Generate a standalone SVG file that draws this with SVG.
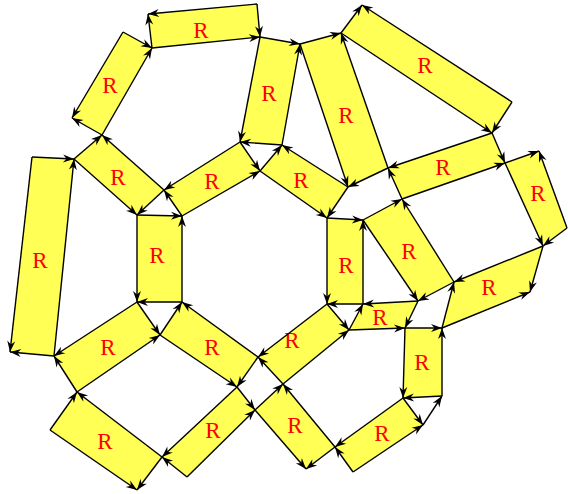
<svg xmlns="http://www.w3.org/2000/svg" width="568" height="494" viewBox="0 0 568 494">
<style>
.q{fill:#ffff55;stroke:none}
.t{font-family:"Liberation Serif",serif;font-size:23px;fill:#ff0000;text-anchor:middle}
.e{stroke:#000;stroke-width:1.4;fill:none;marker-end:url(#ah)}
</style>
<defs>
<marker id="ah" markerUnits="userSpaceOnUse" viewBox="-12 -5 13 10" refX="0" refY="0" markerWidth="13" markerHeight="10" orient="auto">
<path d="M0,0 L-11,-4 L-7.5,0 L-11,4 z" fill="#000"/>
</marker>
</defs>
<rect width="568" height="494" fill="#fff"/>
<g id="n1"><polygon class="q" points="148,14 257,4 260,37 152,48"/><text class="t" x="201" y="38">R</text></g>
<g id="n2"><polygon class="q" points="123,32 152,48 102,135 72,118"/><text class="t" x="110" y="93">R</text></g>
<g id="n3"><polygon class="q" points="102,135 164,190 137,215 74,159"/><text class="t" x="118" y="185">R</text></g>
<g id="n4"><polygon class="q" points="32,157 74,159 54,356 10,352"/><text class="t" x="40" y="268">R</text></g>
<g id="n5"><polygon class="q" points="137,302 160,335 77,392 54,356"/><text class="t" x="108" y="355">R</text></g>
<g id="n6"><polygon class="q" points="137,215 182,216 182,302 137,302"/><text class="t" x="157" y="263">R</text></g>
<g id="n7"><polygon class="q" points="164,190 240,142 260,171 182,216"/><text class="t" x="212" y="189">R</text></g>
<g id="n8"><polygon class="q" points="260,37 300,44 282,145 240,142"/><text class="t" x="269" y="101">R</text></g>
<g id="n9"><polygon class="q" points="282,145 348,187 327,218 260,171"/><text class="t" x="301" y="188">R</text></g>
<g id="n10"><polygon class="q" points="327,218 363,220 363,304 327,304"/><text class="t" x="346" y="273">R</text></g>
<g id="n11"><polygon class="q" points="363,220 402,199 454,282 418,301"/><text class="t" x="409" y="259">R</text></g>
<g id="n12"><polygon class="q" points="363,304 418,301 405,328 349,330"/><text class="t" x="380" y="325">R</text></g>
<g id="n13"><polygon class="q" points="327,304 349,330 283,384 258,357"/><text class="t" x="292" y="348">R</text></g>
<g id="n14"><polygon class="q" points="182,302 258,357 237,387 160,335"/><text class="t" x="212" y="355">R</text></g>
<g id="n15"><polygon class="q" points="77,392 162,457 137,490 50,430"/><text class="t" x="105" y="449">R</text></g>
<g id="n16"><polygon class="q" points="237,387 255,410 187,477 162,457"/><text class="t" x="213" y="438">R</text></g>
<g id="n17"><polygon class="q" points="283,384 335,447 306,469 255,410"/><text class="t" x="295" y="433">R</text></g>
<g id="n18"><polygon class="q" points="403,398 423,425 353,472 335,447"/><text class="t" x="382" y="441">R</text></g>
<g id="n19"><polygon class="q" points="405,328 442,328 442,396 403,398"/><text class="t" x="422" y="370">R</text></g>
<g id="n20"><polygon class="q" points="362,5 512,102 492,133 341,33"/><text class="t" x="425" y="73">R</text></g>
<g id="n21"><polygon class="q" points="300,44 341,33 388,168 348,187"/><text class="t" x="346" y="123">R</text></g>
<g id="n22"><polygon class="q" points="492,133 505,163 402,199 388,168"/><text class="t" x="443" y="175">R</text></g>
<g id="n23"><polygon class="q" points="505,163 539,151 567,228 543,246"/><text class="t" x="538" y="201">R</text></g>
<g id="n24"><polygon class="q" points="454,282 543,246 530,292 442,328"/><text class="t" x="489" y="295">R</text></g>
<g id="connectors">
<line class="e" x1="257" y1="4" x2="148" y2="14"/>
<line class="e" x1="257" y1="4" x2="260" y2="37"/>
<line class="e" x1="152" y1="48" x2="148" y2="14"/>
<line class="e" x1="152" y1="48" x2="260" y2="37"/>
<line class="e" x1="123" y1="32" x2="152" y2="48"/>
<line class="e" x1="102" y1="135" x2="152" y2="48"/>
<line class="e" x1="123" y1="32" x2="72" y2="118"/>
<line class="e" x1="102" y1="135" x2="72" y2="118"/>
<line class="e" x1="74" y1="159" x2="102" y2="135"/>
<line class="e" x1="164" y1="190" x2="102" y2="135"/>
<line class="e" x1="74" y1="159" x2="137" y2="215"/>
<line class="e" x1="164" y1="190" x2="137" y2="215"/>
<line class="e" x1="32" y1="157" x2="74" y2="159"/>
<line class="e" x1="54" y1="356" x2="74" y2="159"/>
<line class="e" x1="32" y1="157" x2="10" y2="352"/>
<line class="e" x1="54" y1="356" x2="10" y2="352"/>
<line class="e" x1="137" y1="302" x2="54" y2="356"/>
<line class="e" x1="77" y1="392" x2="54" y2="356"/>
<line class="e" x1="137" y1="302" x2="160" y2="335"/>
<line class="e" x1="77" y1="392" x2="160" y2="335"/>
<line class="e" x1="137" y1="215" x2="182" y2="216"/>
<line class="e" x1="182" y1="302" x2="182" y2="216"/>
<line class="e" x1="137" y1="215" x2="137" y2="302"/>
<line class="e" x1="182" y1="302" x2="137" y2="302"/>
<line class="e" x1="240" y1="142" x2="164" y2="190"/>
<line class="e" x1="182" y1="216" x2="164" y2="190"/>
<line class="e" x1="240" y1="142" x2="260" y2="171"/>
<line class="e" x1="182" y1="216" x2="260" y2="171"/>
<line class="e" x1="260" y1="37" x2="300" y2="44"/>
<line class="e" x1="282" y1="145" x2="300" y2="44"/>
<line class="e" x1="260" y1="37" x2="240" y2="142"/>
<line class="e" x1="282" y1="145" x2="240" y2="142"/>
<line class="e" x1="348" y1="187" x2="282" y2="145"/>
<line class="e" x1="260" y1="171" x2="282" y2="145"/>
<line class="e" x1="348" y1="187" x2="327" y2="218"/>
<line class="e" x1="260" y1="171" x2="327" y2="218"/>
<line class="e" x1="327" y1="218" x2="363" y2="220"/>
<line class="e" x1="363" y1="304" x2="363" y2="220"/>
<line class="e" x1="327" y1="218" x2="327" y2="304"/>
<line class="e" x1="363" y1="304" x2="327" y2="304"/>
<line class="e" x1="363" y1="220" x2="402" y2="199"/>
<line class="e" x1="454" y1="282" x2="402" y2="199"/>
<line class="e" x1="363" y1="220" x2="418" y2="301"/>
<line class="e" x1="454" y1="282" x2="418" y2="301"/>
<line class="e" x1="418" y1="301" x2="363" y2="304"/>
<line class="e" x1="349" y1="330" x2="363" y2="304"/>
<line class="e" x1="418" y1="301" x2="405" y2="328"/>
<line class="e" x1="349" y1="330" x2="405" y2="328"/>
<line class="e" x1="327" y1="304" x2="349" y2="330"/>
<line class="e" x1="283" y1="384" x2="349" y2="330"/>
<line class="e" x1="327" y1="304" x2="258" y2="357"/>
<line class="e" x1="283" y1="384" x2="258" y2="357"/>
<line class="e" x1="160" y1="335" x2="182" y2="302"/>
<line class="e" x1="258" y1="357" x2="182" y2="302"/>
<line class="e" x1="160" y1="335" x2="237" y2="387"/>
<line class="e" x1="258" y1="357" x2="237" y2="387"/>
<line class="e" x1="50" y1="430" x2="77" y2="392"/>
<line class="e" x1="162" y1="457" x2="77" y2="392"/>
<line class="e" x1="50" y1="430" x2="137" y2="490"/>
<line class="e" x1="162" y1="457" x2="137" y2="490"/>
<line class="e" x1="237" y1="387" x2="162" y2="457"/>
<line class="e" x1="187" y1="477" x2="162" y2="457"/>
<line class="e" x1="237" y1="387" x2="255" y2="410"/>
<line class="e" x1="187" y1="477" x2="255" y2="410"/>
<line class="e" x1="255" y1="410" x2="283" y2="384"/>
<line class="e" x1="335" y1="447" x2="283" y2="384"/>
<line class="e" x1="255" y1="410" x2="306" y2="469"/>
<line class="e" x1="335" y1="447" x2="306" y2="469"/>
<line class="e" x1="403" y1="398" x2="335" y2="447"/>
<line class="e" x1="353" y1="472" x2="335" y2="447"/>
<line class="e" x1="403" y1="398" x2="423" y2="425"/>
<line class="e" x1="353" y1="472" x2="423" y2="425"/>
<line class="e" x1="405" y1="328" x2="442" y2="328"/>
<line class="e" x1="442" y1="396" x2="442" y2="328"/>
<line class="e" x1="405" y1="328" x2="403" y2="398"/>
<line class="e" x1="442" y1="396" x2="403" y2="398"/>
<line class="e" x1="423" y1="425" x2="442" y2="396"/>
<line class="e" x1="341" y1="33" x2="362" y2="5"/>
<line class="e" x1="512" y1="102" x2="362" y2="5"/>
<line class="e" x1="341" y1="33" x2="492" y2="133"/>
<line class="e" x1="512" y1="102" x2="492" y2="133"/>
<line class="e" x1="300" y1="44" x2="341" y2="33"/>
<line class="e" x1="388" y1="168" x2="341" y2="33"/>
<line class="e" x1="300" y1="44" x2="348" y2="187"/>
<line class="e" x1="388" y1="168" x2="348" y2="187"/>
<line class="e" x1="492" y1="133" x2="505" y2="163"/>
<line class="e" x1="492" y1="133" x2="388" y2="168"/>
<line class="e" x1="402" y1="199" x2="505" y2="163"/>
<line class="e" x1="402" y1="199" x2="388" y2="168"/>
<line class="e" x1="505" y1="163" x2="539" y2="151"/>
<line class="e" x1="567" y1="228" x2="539" y2="151"/>
<line class="e" x1="505" y1="163" x2="543" y2="246"/>
<line class="e" x1="567" y1="228" x2="543" y2="246"/>
<line class="e" x1="543" y1="246" x2="454" y2="282"/>
<line class="e" x1="442" y1="328" x2="454" y2="282"/>
<line class="e" x1="543" y1="246" x2="530" y2="292"/>
<line class="e" x1="442" y1="328" x2="530" y2="292"/>
</g>
</svg>
